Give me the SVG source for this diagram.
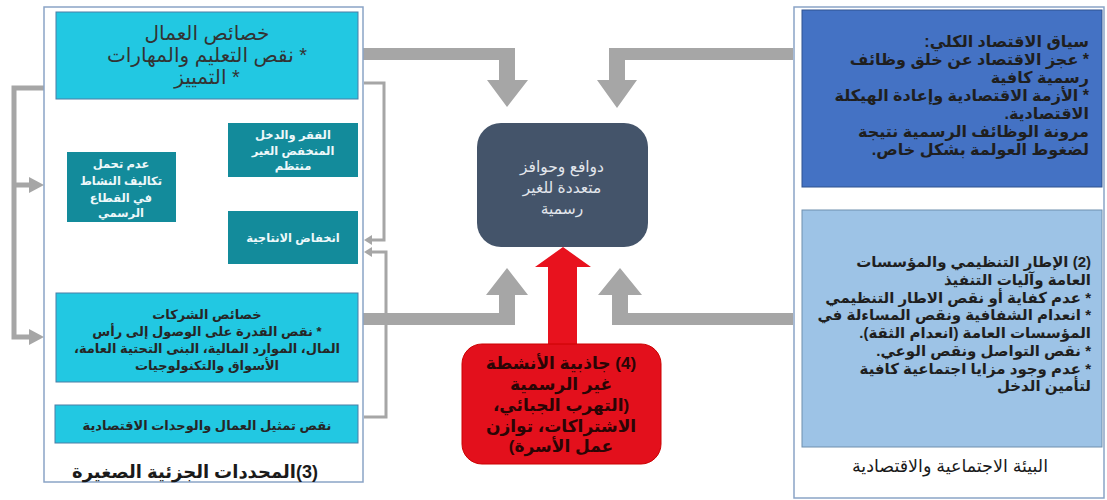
<svg xmlns="http://www.w3.org/2000/svg" width="1107" height="500" viewBox="0 0 1107 500">
<style>
text{font-family:"Liberation Sans","DejaVu Sans",sans-serif;direction:rtl}
.c{text-anchor:middle}
.r{text-anchor:start}
.frame{fill:#fff;stroke:#8aa4c6;stroke-width:1.5}
.cyan{fill:#22c8e2;stroke:#4a7ea6;stroke-width:1}
.teal{fill:#138b9b}
.tw{fill:#eef8fa;font-size:11.5px;font-weight:bold}
.dk{fill:#262626;font-weight:bold;font-size:13px}
.rb{fill:#1f1f1f;font-weight:bold}
.ga{fill:#a6a6a6}
.gl{fill:none;stroke:#a6a6a6}
</style>
<g id="connectors">
  <path class="gl" stroke-width="5" d="M44,88 H14 V337 H30 M14,185 H30"/>
  <polygon class="ga" points="29,177 44,185 29,193"/>
  <polygon class="ga" points="29,329 44,337 29,345"/>
  <path class="gl" stroke-width="3" d="M364,83 H384 V240 H371 M364,417 H386 V252 H371"/>
  <polygon class="ga" points="372,235 364,240 372,245"/>
  <polygon class="ga" points="372,247 364,252 372,257"/>
  <polygon class="ga" points="363,48 515,48 515,80 528,80 507,107 487,80 499,80 499,60 363,60"/>
  <polygon class="ga" points="793,48 609,48 609,80 597,80 617,108 637,80 625,80 625,60 793,60"/>
  <polygon class="ga" points="363,313 499,313 499,295 486,295 507,268 528,295 515,295 515,325 363,325"/>
  <polygon class="ga" points="793,313 628,313 628,295 642,295 620,268 598,295 612,295 612,325 793,325"/>
  <polygon fill="#e8121e" points="548,344 548,267 535,267 563,247 591,267 577,267 577,344"/>
  <polygon class="ga" points="280,178 288,187 283,187 283,201 288,201 280,210 272,201 277,201 277,187 272,187"/>
  <polygon class="ga" points="235,188 206,188 206,182 190,193 206,204 206,198 235,198"/>
  <polygon class="ga" points="276,293 276,272 272,272 280,264 288,272 284,272 284,293"/>
</g>
<g id="panel-micro">
  <rect class="frame" x="44" y="7" width="319" height="475"/>
  <text class="c" x="195" y="478" fill="#1a1a1a" font-size="18" font-weight="bold">(3)المحددات الجزئية الصغيرة</text>
</g>
<g id="workers">
  <rect class="cyan" x="56" y="12" width="302" height="87"/>
  <text class="c" x="207" y="40" fill="#333" font-size="20">خصائص العمال</text>
  <text class="c" x="207" y="62" fill="#333" font-size="20">* نقص التعليم والمهارات</text>
  <text class="c" x="207" y="84" fill="#333" font-size="20">* التمييز</text>
</g>
<g id="poverty">
  <rect class="teal" x="228" y="123" width="130" height="54"/>
  <text class="c tw" x="293" y="139">الفقر والدخل</text>
  <text class="c tw" x="293" y="155">المنخفض الغير</text>
  <text class="c tw" x="293" y="170">منتظم</text>
</g>
<g id="productivity">
  <rect class="teal" x="228" y="211" width="130" height="53"/>
  <text class="c tw" x="293" y="242">انخفاض الانتاجية</text>
</g>
<g id="costs">
  <rect class="teal" x="67" y="152" width="109" height="70"/>
  <text class="c tw" x="121" y="168" font-size="12">عدم تحمل</text>
  <text class="c tw" x="121" y="185" font-size="12">تكاليف النشاط</text>
  <text class="c tw" x="121" y="202" font-size="12">في القطاع</text>
  <text class="c tw" x="121" y="217" font-size="12">الرسمي</text>
</g>
<g id="firms">
  <rect class="cyan" x="56" y="293" width="302" height="89"/>
  <text class="c dk" x="207" y="319">خصائص الشركات</text>
  <text class="c dk" x="207" y="336">* نقص القدرة على الوصول إلى رأس</text>
  <text class="c dk" x="207" y="353">المال، الموارد المالية، البنى التحتية العامة،</text>
  <text class="c dk" x="207" y="370">الأسواق والتكنولوجيات</text>
</g>
<g id="representation">
  <rect class="cyan" x="55" y="405" width="303" height="38"/>
  <text class="c dk" x="207" y="430" font-size="15">نقص تمثيل العمال والوحدات الاقتصادية</text>
</g>
<g id="motives">
  <rect x="477" y="123" width="171" height="124" rx="24" fill="#44546a"/>
  <text class="c" x="562" y="172" fill="#e2e6ec" font-size="15.5">دوافع وحوافز</text>
  <text class="c" x="562" y="193" fill="#e2e6ec" font-size="15.5">متعددة للغير</text>
  <text class="c" x="562" y="214" fill="#e2e6ec" font-size="15.5">رسمية</text>
</g>
<g id="attractiveness">
  <rect x="462" y="344" width="199" height="120" rx="20" fill="#e3101c" stroke="#c00" stroke-width="1"/>
  <text class="c" x="561" y="369" fill="#2a0505" font-size="17" font-weight="bold">(4) جاذبية الأنشطة</text>
  <text class="c" x="561" y="390" fill="#2a0505" font-size="17" font-weight="bold">غير الرسمية</text>
  <text class="c" x="561" y="411" fill="#2a0505" font-size="17" font-weight="bold">(التهرب الجبائي،</text>
  <text class="c" x="561" y="432" fill="#2a0505" font-size="17" font-weight="bold">الاشتراكات، توازن</text>
  <text class="c" x="561" y="452" fill="#2a0505" font-size="17" font-weight="bold">عمل الأسرة)</text>
</g>
<g id="panel-env">
  <rect class="frame" x="794" y="7" width="310" height="491"/>
  <text class="c" x="950" y="472" fill="#1a1a1a" font-size="17.5">البيئة الاجتماعية والاقتصادية</text>
</g>
<g id="macro">
  <rect x="802" y="10" width="300" height="177" fill="#4472c4" stroke="#2f528f" stroke-width="1"/>
  <text class="r rb" x="1089" y="47" font-size="16">سياق الاقتصاد الكلي:</text>
  <text class="r rb" x="1089" y="65" font-size="16">* عجز الاقتصاد عن خلق وظائف</text>
  <text class="r rb" x="1089" y="83" font-size="16">رسمية كافية</text>
  <text class="r rb" x="1089" y="101" font-size="16">* الأزمة الاقتصادية وإعادة الهيكلة</text>
  <text class="r rb" x="1089" y="119" font-size="16">الاقتصادية.</text>
  <text class="r rb" x="1089" y="137" font-size="16">مرونة الوظائف الرسمية نتيجة</text>
  <text class="r rb" x="1089" y="155" font-size="16">لضغوط العولمة بشكل خاص.</text>
</g>
<g id="regulatory">
  <rect x="802" y="210" width="300" height="237" fill="#9dc3e6" stroke="#6f8fae" stroke-width="1"/>
  <text class="r rb" x="1091" y="267" font-size="15">(2) الإطار التنظيمي والمؤسسات</text>
  <text class="r rb" x="1091" y="285" font-size="15">العامة وآليات التنفيذ</text>
  <text class="r rb" x="1091" y="303" font-size="15">* عدم كفاية أو نقص الاطار التنظيمي</text>
  <text class="r rb" x="1091" y="320" font-size="15">* انعدام الشفافية ونقص المساءلة في</text>
  <text class="r rb" x="1091" y="338" font-size="15">المؤسسات العامة (انعدام الثقة).</text>
  <text class="r rb" x="1091" y="356" font-size="15">* نقص التواصل ونقص الوعي.</text>
  <text class="r rb" x="1091" y="374" font-size="15">* عدم وجود مزايا اجتماعية كافية</text>
  <text class="r rb" x="1091" y="391" font-size="15">لتأمين الدخل</text>
</g>
</svg>
